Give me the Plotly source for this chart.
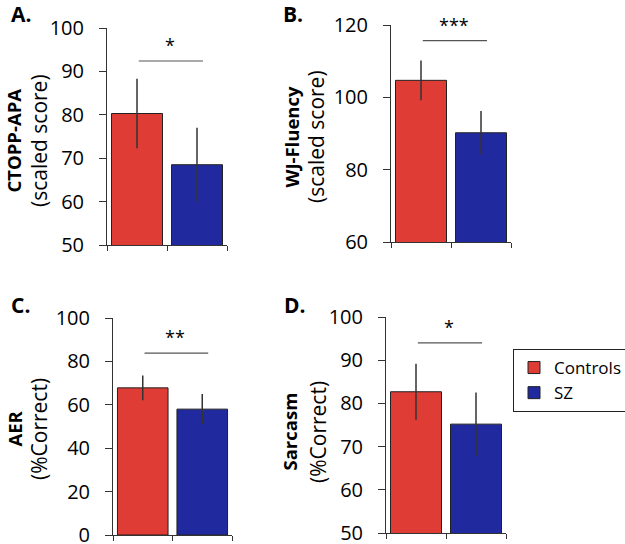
import plotly.graph_objects as go

# panel data
panel_letters = ["A.", "B.", "C.", "D."]
measures = ["CTOPP-APA", "WJ-Fluency", "AER", "Sarcasm"]
units = ["(scaled score)", "(scaled score)", "(%Correct)", "(%Correct)"]
groups = ["Controls", "SZ"]
controls_mean = [80.3, 104.7, 67.8, 82.7]
controls_err = [8.0, 5.5, 5.7, 6.5]
sz_mean = [68.5, 90.2, 58.0, 75.2]
sz_err = [8.5, 6.0, 7.0, 7.3]
sig_labels = ["*", "***", "**", "*"]
sig_levels = [92.4, 115.7, 83.8, 94.0]
y_ranges = [[50, 100], [60, 120], [0, 100], [50, 100]]
y_dticks = [10, 20, 20, 10]

W, H = 625, 544
RED = "#DE3C34"
BLUE = "#20299E"
FONT = "Open Sans"

# plot boxes in pixels: (left, right, top, bottom)
boxes = [(107, 227, 28, 245), (391, 511, 25, 242), (113, 232, 318, 535), (386, 506, 317, 533)]
title_x = [(12.5, 39), (290.5, 316), (13.5, 39), (288.5, 318)]
title_y = [141, 137, 429, 432]
letter_pos = [(20.5, 14.5), (292.5, 14.5), (20.5, 304.5), (295, 304.5)]

fig = go.Figure()
annotations = []
shapes = []
layout = {}

for i in range(4):
    xa = "x" if i == 0 else f"x{i+1}"
    ya = "y" if i == 0 else f"y{i+1}"
    l, r, t, b = boxes[i]
    for j, (means, errs, color) in enumerate([(controls_mean, controls_err, RED), (sz_mean, sz_err, BLUE)]):
        fig.add_trace(go.Bar(
            x=[j], y=[means[i]], name=groups[j], legendgroup=groups[j], showlegend=(i == 3),
            xaxis=xa, yaxis=ya, width=0.85,
            marker=dict(color=color, line=dict(color="#222222", width=1)),
            error_y=dict(type="data", array=[errs[i]], color="#333333", thickness=1.5, width=0),
        ))
    layout["xaxis" if i == 0 else f"xaxis{i+1}"] = dict(
        domain=[l / W, r / W], anchor=ya, range=[-0.5, 1.5],
        tickvals=[-0.5, 0.5, 1.5], ticks="outside", ticklen=5, tickcolor="#333",
        showticklabels=False, showline=True, linecolor="#333", linewidth=1,
        showgrid=False, zeroline=False, fixedrange=True,
    )
    layout["yaxis" if i == 0 else f"yaxis{i+1}"] = dict(
        domain=[1 - b / H, 1 - t / H], anchor=xa, range=y_ranges[i], dtick=y_dticks[i],
        ticks="outside", ticklen=7, tickcolor="#333", ticklabelstandoff=11,
        ticklabeloverflow="allow",
        showline=True, linecolor="#333", linewidth=1,
        showgrid=False, zeroline=False, fixedrange=True,
        tickfont=dict(family=FONT, size=20, color="black"),
    )
    # significance bar and stars
    shapes.append(dict(type="line", xref=xa, yref=ya, x0=0.03, x1=1.1,
                       y0=sig_levels[i], y1=sig_levels[i], line=dict(color="#555555", width=1.2)))
    annotations.append(dict(xref=xa, yref=ya, x=0.55, y=sig_levels[i], text=sig_labels[i],
                            showarrow=False, yanchor="bottom", yshift=2,
                            font=dict(family=FONT, size=18, color="black")))
    # y titles
    annotations.append(dict(xref="paper", yref="paper", x=title_x[i][0] / W, y=1 - title_y[i] / H,
                            text="<b>" + measures[i] + "</b>", textangle=-90, showarrow=False,
                            xanchor="center", yanchor="middle",
                            font=dict(family=FONT, size=18.5, color="black")))
    annotations.append(dict(xref="paper", yref="paper", x=title_x[i][1] / W, y=1 - title_y[i] / H,
                            text=units[i], textangle=-90, showarrow=False,
                            xanchor="center", yanchor="middle",
                            font=dict(family=FONT, size=21, color="black")))
    # panel letters
    annotations.append(dict(xref="paper", yref="paper", x=letter_pos[i][0] / W, y=1 - letter_pos[i][1] / H,
                            text="<b>" + panel_letters[i] + "</b>", showarrow=False,
                            xanchor="center", yanchor="middle",
                            font=dict(family=FONT, size=21, color="black")))

fig.update_layout(
    width=W, height=H, margin=dict(l=0, r=0, t=0, b=0, autoexpand=False),
    paper_bgcolor="white", plot_bgcolor="white",
    font=dict(family=FONT, color="black"),
    annotations=annotations, shapes=shapes,
    legend=dict(x=513 / W, y=1 - 349 / H, xanchor="left", yanchor="top",
                bordercolor="#222", borderwidth=1, bgcolor="white",
                font=dict(family=FONT, size=17, color="black"), tracegroupgap=0),
    **layout,
)

# drop the default page margin so the figure sits at the window's corner
fig.write_html("out.html", config={"displayModeBar": False},
               post_script="document.body.style.margin = '0px';")
